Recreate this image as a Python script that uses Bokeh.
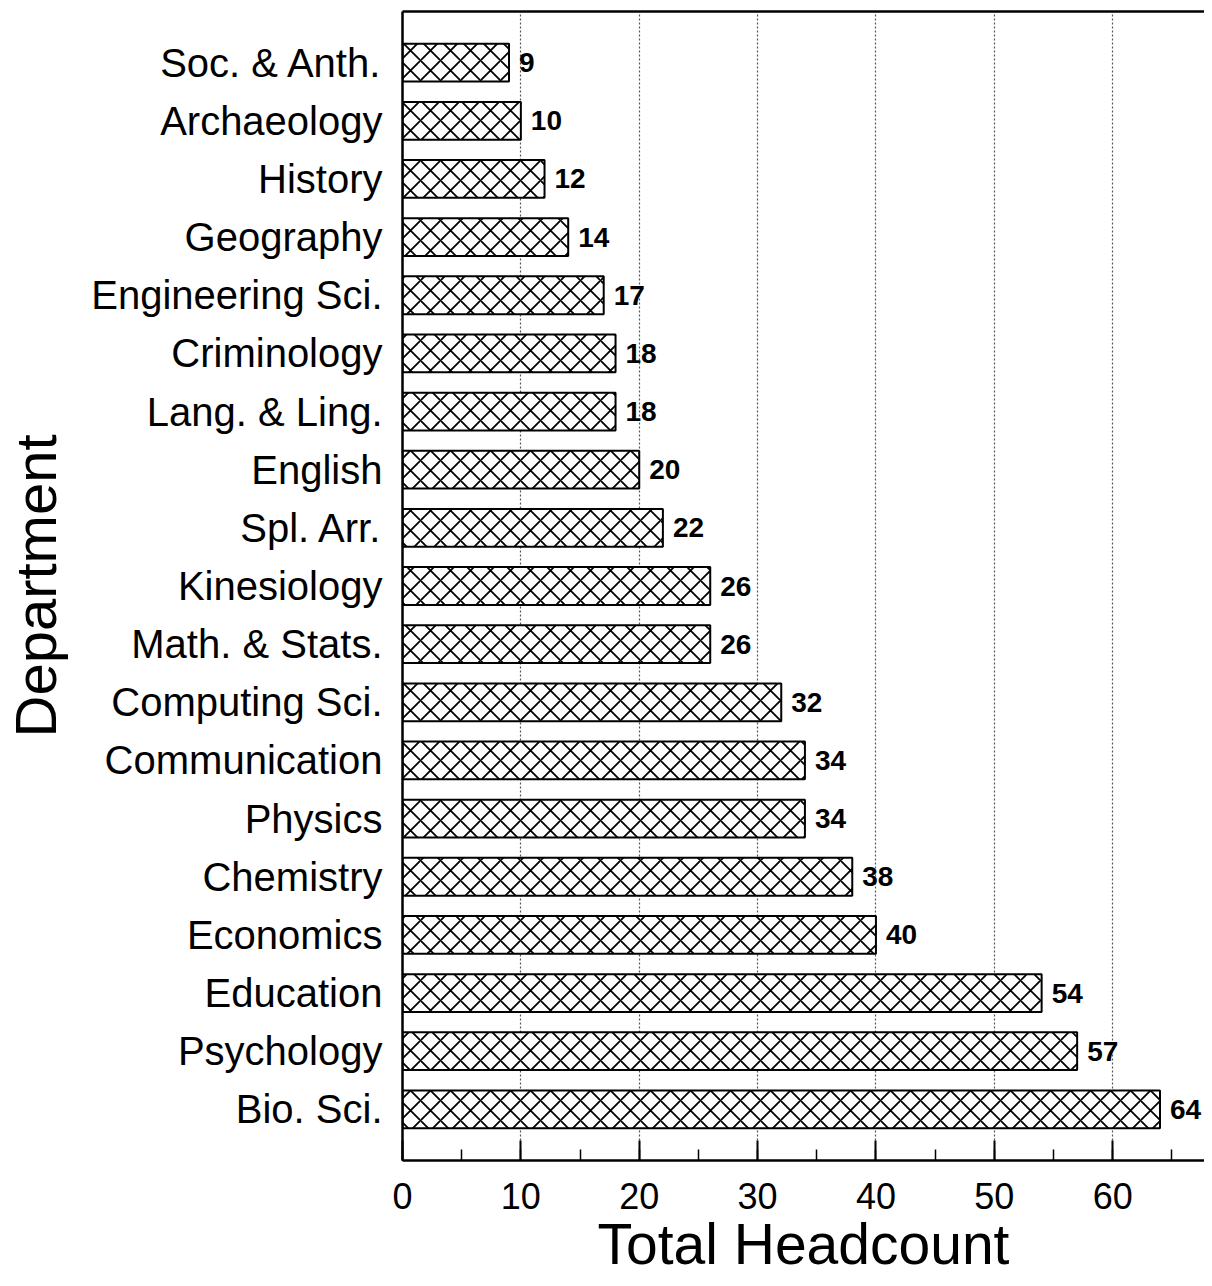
from bokeh.plotting import figure
from bokeh.models import (FactorRange, Range1d, LinearAxis, FixedTicker,
                          SingleIntervalTicker, ColumnDataSource)
from bokeh.core.properties import value
from bokeh.embed import file_html
from bokeh.resources import INLINE

departments = ["Soc. & Anth.", "Archaeology", "History", "Geography",
               "Engineering Sci.", "Criminology", "Lang. & Ling.", "English",
               "Spl. Arr.", "Kinesiology", "Math. & Stats.", "Computing Sci.",
               "Communication", "Physics", "Chemistry", "Economics",
               "Education", "Psychology", "Bio. Sci."]
headcount = [9, 10, 12, 14, 17, 18, 18, 20, 22, 26, 26, 32, 34, 34, 38, 40,
             54, 57, 64]
x_ticks = [0, 10, 20, 30, 40, 50, 60]

FONT = "Liberation Sans"

src = ColumnDataSource(dict(dept=departments, count=headcount,
                            label=[str(v) for v in headcount]))

p = figure(width=1204, height=1278, output_backend="svg", toolbar_location=None,
           y_range=FactorRange(factors=list(reversed(departments)),
                               range_padding=0.38, range_padding_units="absolute"),
           x_range=Range1d(0, 67.76),
           min_border_left=398, min_border_right=0, min_border_top=11,
           min_border_bottom=0)
p.outline_line_color = None
p.background_fill_color = "white"
p.border_fill_color = "white"

p.hbar(y="dept", right="count", left=0, height=0.65, source=src,
       fill_color="white", line_color="black", line_width=2,
       hatch_pattern="diagonal_cross", hatch_color="black",
       hatch_weight=1.8, hatch_scale=20)

p.text(x="count", y="dept", text="label", source=src, x_offset=10,
       text_baseline="middle", text_align="left", text_font=value(FONT),
       text_font_size="28px", text_font_style="bold", text_color="black")

# grid
p.ygrid.grid_line_color = None
p.xgrid.grid_line_color = "#555555"
p.xgrid.grid_line_dash = "2 2"
p.xgrid.grid_line_width = 1.2
p.xgrid.ticker = FixedTicker(ticks=x_ticks[1:])

# bottom axis
xa = p.xaxis[0]
xa.ticker = SingleIntervalTicker(interval=10, num_minor_ticks=2)
xa.axis_line_width = 2.5
xa.axis_line_color = "black"
xa.major_tick_in = 20
xa.major_tick_out = 0
xa.minor_tick_in = 11
xa.minor_tick_out = 0
xa.major_tick_line_width = 2
xa.minor_tick_line_width = 1.5
xa.major_tick_line_color = "black"
xa.minor_tick_line_color = "black"
xa.major_label_text_font = FONT
xa.major_label_text_font_size = "36px"
xa.major_label_text_color = "black"
xa.major_label_standoff = 22
xa.axis_label = "Total Headcount"
xa.axis_label_text_font = FONT
xa.axis_label_text_font_size = "57px"
xa.axis_label_text_font_style = "normal"
xa.axis_label_text_color = "black"
xa.axis_label_standoff = 0

# left axis
ya = p.yaxis[0]
ya.axis_line_width = 2.5
ya.axis_line_color = "black"
ya.major_tick_line_color = None
ya.minor_tick_line_color = None
ya.major_label_text_font = FONT
ya.major_label_text_font_size = "40px"
ya.major_label_text_color = "black"
ya.major_label_standoff = 14
ya.axis_label = "Department"
ya.axis_label_text_font = FONT
ya.axis_label_text_font_size = "58px"
ya.axis_label_text_font_style = "normal"
ya.axis_label_text_color = "black"
ya.axis_label_standoff = 20

# top frame line
top = LinearAxis(ticker=FixedTicker(ticks=[]), axis_line_width=2.5,
                 axis_line_color="black", major_tick_out=0, minor_tick_out=0,
                 major_label_standoff=0)
p.add_layout(top, "above")

open("out.html", "w").write(file_html(p, INLINE))
